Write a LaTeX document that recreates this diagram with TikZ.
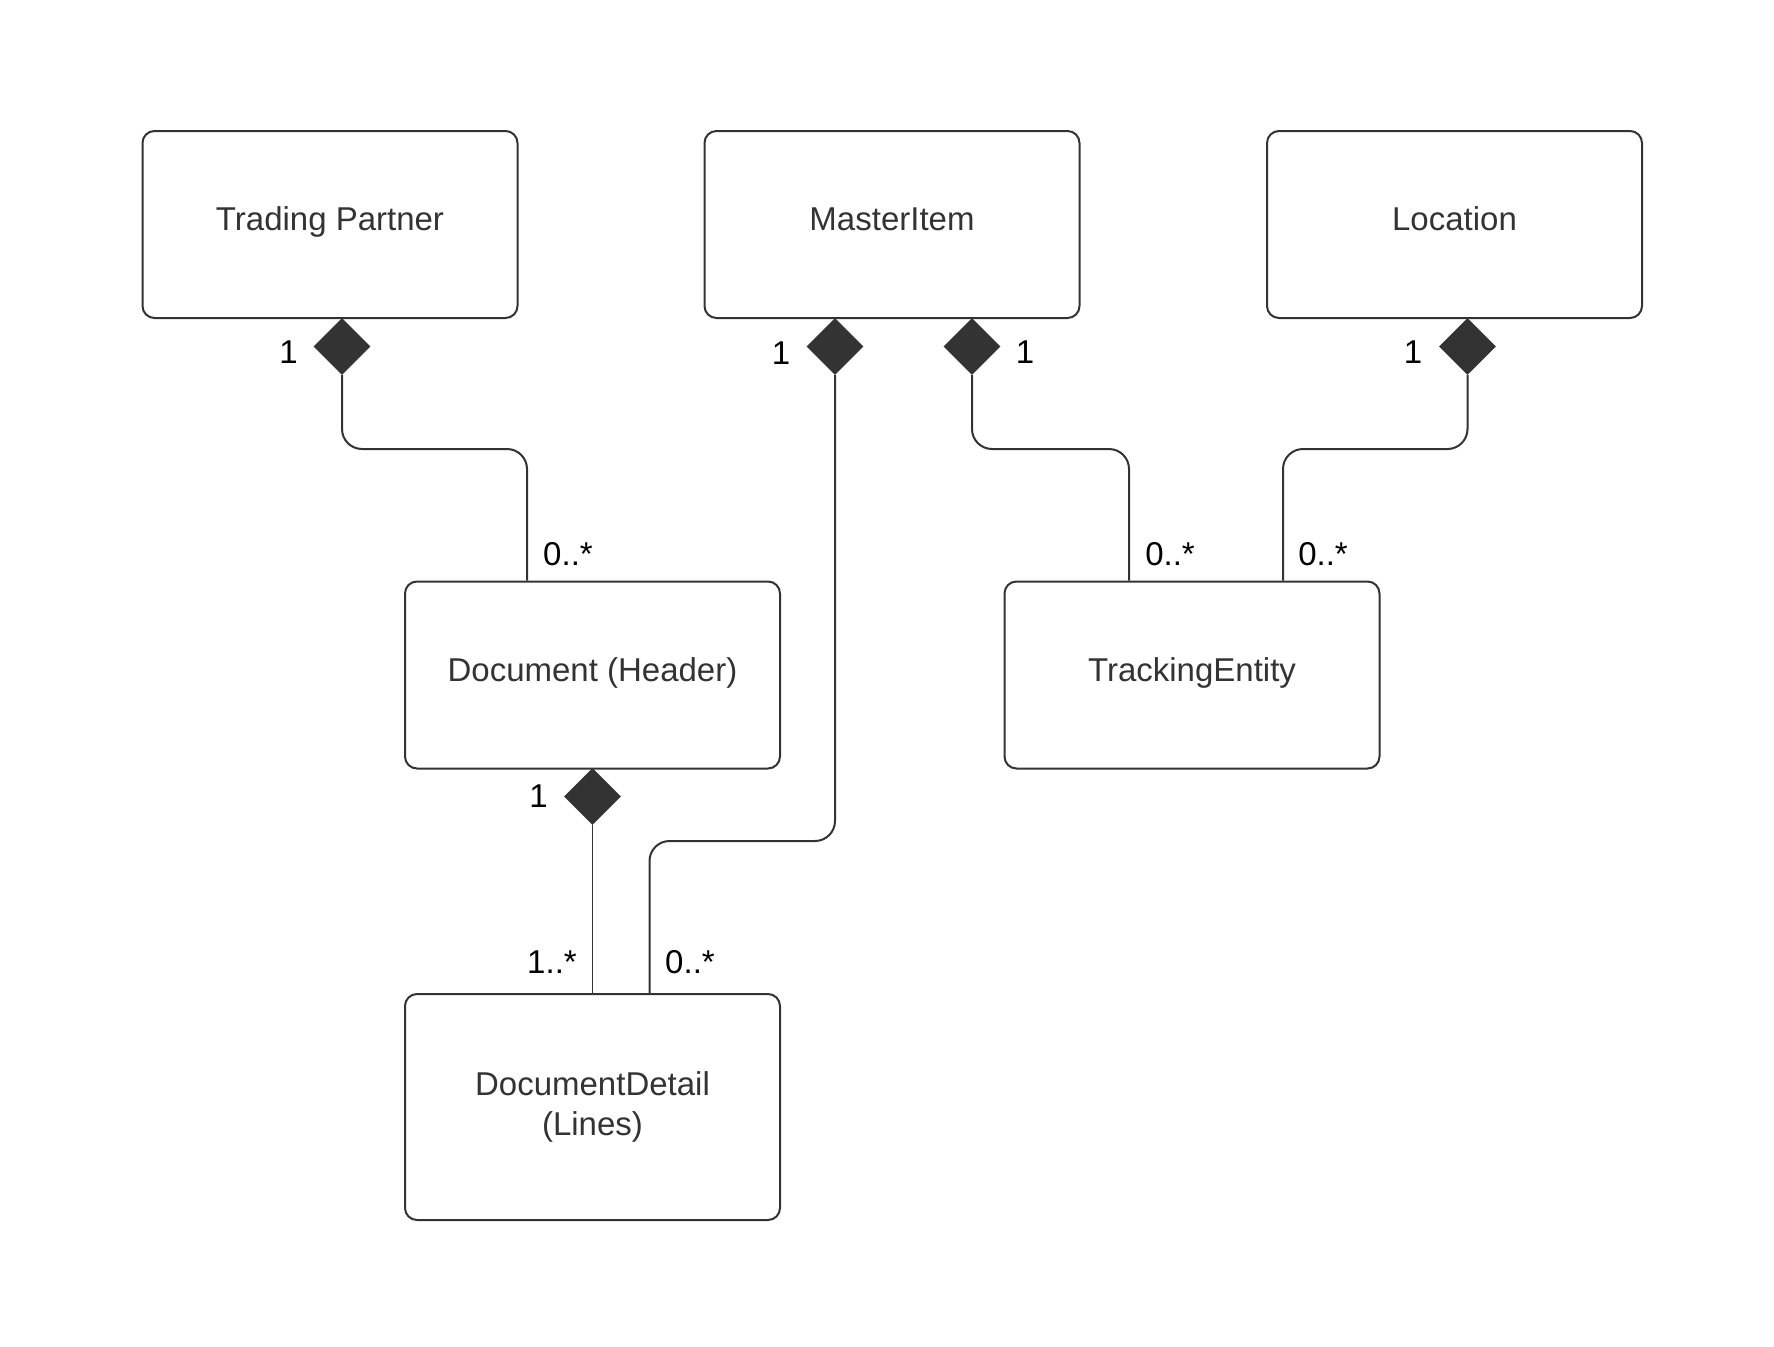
\documentclass[tikz,border=0pt]{standalone}
\usepackage{fontspec}
\setmainfont{Liberation Sans}
\usetikzlibrary{shapes.geometric}
\definecolor{linec}{HTML}{333333}
\definecolor{textc}{HTML}{333333}
\begin{document}
\begin{tikzpicture}[x=1pt,y=-1pt,
  entity/.style={draw=linec, line width=2pt, rounded corners=12pt,
    minimum width=375pt, minimum height=187pt, inner sep=0pt,
    font=\fontsize{33}{40.5}\selectfont, text=textc, align=center},
  oneline/.style={text height=24pt, text depth=11.6pt},
  compo/.style={shape=diamond, aspect=1, fill=linec, draw=none,
    minimum width=57pt, minimum height=57pt, inner sep=0pt},
  conn/.style={draw=linec, line width=2pt, rounded corners=20pt},
  mult/.style={font=\fontsize{33}{40}\selectfont, text=black, inner sep=0pt}
]
% canvas
\useasboundingbox (0,0) rectangle (1774,1346);

% classes
\node[entity, oneline] (tp)  at (330,224.5)    {Trading Partner};
\node[entity, oneline] (mi)  at (892,224.5)    {MasterItem};
\node[entity, oneline] (loc) at (1454.5,224.5) {Location};
\node[entity, oneline] (doc) at (592.5,675)    {Document (Header)};
\node[entity, oneline] (te)  at (1192,675)     {TrackingEntity};
\node[entity, minimum height=226pt] (det) at (592.5,1107) {DocumentDetail\\(Lines)};

% composition diamonds
\node[compo] (dtp)  at (342,346.5)    {};
\node[compo] (dmi1) at (835,346.5)    {};
\node[compo] (dmi2) at (972,346.5)    {};
\node[compo] (dloc) at (1467.5,346.5) {};
\node[compo] (ddoc) at (592.5,796.5)  {};

% bend points of the routed associations
\coordinate (b1) at (527,449);
\coordinate (b2) at (649.5,841);
\coordinate (b3) at (1129,449);
\coordinate (b4) at (1283,449);

% associations
\draw[conn] (dtp.south) |- (b1) -- (b1 |- doc.north);
\draw[conn] (dmi1.south) |- (b2) -- (b2 |- det.north);
\draw[conn] (dmi2.south) |- (b3) -- (b3 |- te.north);
\draw[conn] (dloc.south) |- (b4) -- (b4 |- te.north);
\draw[draw=linec, line width=1.3pt] (ddoc.south) -- (ddoc.south |- det.north);

% multiplicities
\node[mult] (m1) at (288.5,352) {1};
\node[mult] (m2) at (781,353)   {1};
\node[mult] (m3) at (1025,352)  {1};
\node[mult] (m4) at (1413,352)  {1};
\node[mult] (m5) at (538.5,796.5) {1};
\node[mult] (m6) at (568,554)   {0..*};
\node[mult] (m7) at (1170,554)  {0..*};
\node[mult] (m8) at (1323,554)  {0..*};
\node[mult] (m9) at (552,962)   {1..*};
\node[mult] (m10) at (690,962)  {0..*};
\end{tikzpicture}
\end{document}
